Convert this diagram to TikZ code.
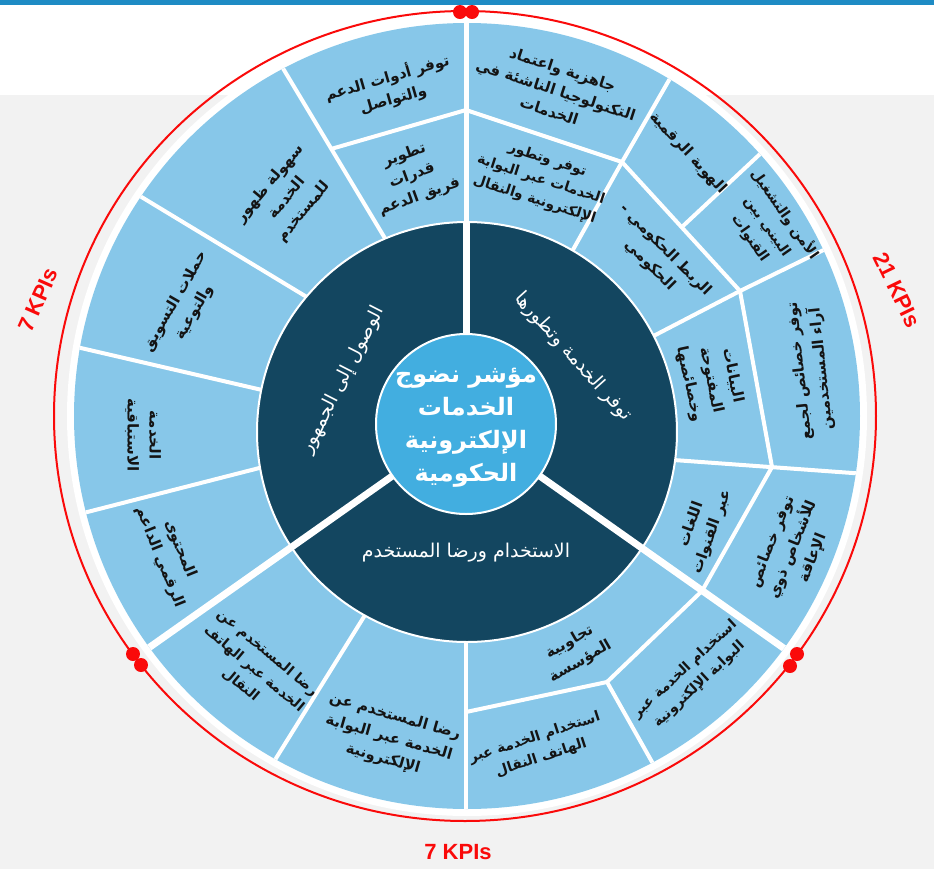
\documentclass[tikz,border=0pt]{standalone}
\usepackage{fontspec}
\TeXXeTstate=1
\newfontfamily\arabicfont[Script=Arabic]{DejaVu Sans}
\newfontfamily\kpifont{Liberation Sans}
\newcommand\arl[1]{\beginR #1\endR}
\definecolor{lightcell}{RGB}{135,199,233}
\definecolor{darkring}{RGB}{19,70,96}
\definecolor{centerblue}{RGB}{66,174,224}
\definecolor{bggrey}{RGB}{242,242,242}
\definecolor{topblue}{RGB}{30,139,196}
\definecolor{kpired}{RGB}{250,10,10}
\definecolor{txtblack}{RGB}{20,20,20}
\tikzset{
 cell/.style={font=\arabicfont\bfseries\fontsize{7.5}{11}\selectfont, align=center, text=txtblack, inner sep=0pt},
 smallcell/.style={cell, font=\arabicfont\bfseries\fontsize{7}{10.5}\selectfont},
 darktext/.style={font=\arabicfont\fontsize{9.5}{12}\selectfont, text=white, inner sep=0pt},
 centertext/.style={font=\arabicfont\bfseries\fontsize{12}{16.5}\selectfont, text=white, align=center, inner sep=0pt},
 kpi/.style={font=\kpifont\bfseries\fontsize{11}{13}\selectfont, text=kpired, inner sep=0pt},
 cellline/.style={draw=white, line width=2pt},
 sepline/.style={draw=white, line width=3.5pt},
 topline/.style={draw=white, line width=2.5pt},
 reddot/.style={fill=kpired, draw=none},
}
\begin{document}
\begin{tikzpicture}[x=0.5pt,y=-0.5pt]
\useasboundingbox (0,0) rectangle (934,869);
% background
\fill[white] (0,0) rectangle (934,95);
\fill[bggrey] (0,95) rectangle (934,869);
\fill[topblue] (0,0) rectangle (934,5);
% red outer ring
\draw[kpired, line width=1pt] (465,416) ellipse [x radius=411, y radius=405];
% white ring and light ring
\fill[white] (467,416) circle (400);
\fill[lightcell] (467,416) circle (393);
% cell boundaries
\begin{scope}
\clip (467,416) circle (393);
\draw[topline] (466,0) -- (466,424);
\draw[cellline] (275,55) -- (395,255);
\draw[cellline] (331,149) -- (466,110);
\draw[cellline] (466,110) -- (622,162);
\draw[cellline] (622,162) -- (680,61);
\draw[cellline] (622,162) -- (560,273);
\draw[cellline] (622,162) -- (740,291);
\draw[cellline] (683,226) -- (775,140);
\draw[cellline] (740,291) -- (850,237);
\draw[cellline] (740,291) -- (640,343);
\draw[cellline] (740,291) -- (772,467);
\draw[cellline] (660,459) -- (880,475);
\draw[cellline] (772,467) -- (702,591);
\draw[cellline] (702,591) -- (607,682);
\draw[cellline] (607,682) -- (466,712);
\draw[cellline] (607,682) -- (665,785);
\draw[cellline] (466,600) -- (466,830);
\draw[cellline] (375,599) -- (265,776);
\draw[cellline] (120,184) -- (320,305);
\draw[cellline] (55,342) -- (275,393);
\draw[cellline] (60,519) -- (275,464);
\end{scope}
% dark ring
\fill[darkring, draw=white, line width=1pt] (467,432) circle (210);
% thick separators
\begin{scope}
\clip (467,416) circle (393);
\draw[sepline] (466,424) -- (466,222);
\draw[sepline] (466,424) -- (809,666);
\draw[sepline] (466,424) -- (123,666);
\end{scope}
% centre
\fill[centerblue, draw=white, line width=1pt] (466,424) circle (90);
\node[centertext] (core) at (466,428) {\arl{مؤشر نضوج}\\\arl{الخدمات}\\\arl{الإلكترونية}\\\arl{الحكومية}};
% dark sector labels
\node[darktext, rotate=63] (reach) at (343,380) {\arl{الوصول إلى الجمهور}};
\node[darktext, rotate=-48] (avail) at (573,357) {\arl{توفر الخدمة وتطورها}};
\node[darktext] (usage) at (466,553) {\arl{الاستخدام ورضا المستخدم}};
% cells, left sector
\node[cell, rotate=16] (c1) at (390,88) {\arl{توفر أدوات الدعم}\\\arl{والتواصل}};
\node[cell, rotate=20] (c2) at (412,176) {\arl{تطوير}\\\arl{قدرات}\\\arl{فريق الدعم}};
\node[cell, rotate=50] (c3) at (287,198) {\arl{سهولة ظهور}\\\arl{الخدمة}\\\arl{للمستخدم}};
\node[cell, rotate=60] (c4) at (185,307) {\arl{حملات التسويق}\\\arl{والتوعية}};
\node[cell, rotate=-90] (c5) at (143,435) {\arl{الخدمة}\\\arl{الاستباقية}};
\node[cell, rotate=-68] (c6) at (170,553) {\arl{المحتوى}\\\arl{الرقمي الداعم}};
% cells, right sector
\node[cell, rotate=-18] (c7) at (556,90) {\arl{جاهزية واعتماد}\\\arl{التكنولوجيا الناشئة في}\\\arl{الخدمات}};
\node[smallcell, rotate=-18] (c8) at (541,180) {\arl{توفر وتطور}\\\arl{الخدمات عبر البوابة}\\\arl{الإلكترونية والنقال}};
\node[cell, rotate=-47] (c9) at (688,153) {\arl{الهوية الرقمية}};
\node[smallcell, rotate=-55] (c10) at (768,226) {\arl{الأمن والتشغيل}\\\arl{البيني بين}\\\arl{القنوات}};
\node[cell, rotate=-45] (c11) at (658,258) {\arl{الربط الحكومي -}\\\arl{الحكومي}};
\node[cell, rotate=-78] (c12) at (711,380) {\arl{البيانات}\\\arl{المفتوحة}\\\arl{وخصائصها}};
\node[cell, rotate=96] (c13) at (811,370) {\arl{توفر خصائص لجمع}\\\arl{آراء المستخدمين}};
\node[cell, rotate=70] (c14) at (702,528) {\arl{اللغات}\\\arl{عبر القنوات}};
\node[cell, rotate=68] (c15) at (793,550) {\arl{توفر خصائص}\\\arl{للأشخاص ذوي}\\\arl{الإعاقة}};
% cells, bottom sector
\node[smallcell, rotate=43] (c16) at (692,677) {\arl{استخدام الخدمة عبر}\\\arl{البوابة الإلكترونية}};
\node[cell, rotate=30] (c17) at (575,652) {\arl{تجاوبية}\\\arl{المؤسسة}};
\node[smallcell, rotate=18] (c18) at (538,748) {\arl{استخدام الخدمة عبر}\\\arl{الهاتف النقال}};
\node[cell, rotate=-16] (c19) at (389,738) {\arl{رضا المستخدم عن}\\\arl{الخدمة عبر البوابة}\\\arl{الإلكترونية}};
\node[smallcell, rotate=-40] (c20) at (254,669) {\arl{رضا المستخدم عن}\\\arl{الخدمة عبر الهاتف}\\\arl{النقال}};
% red markers
\fill[reddot] (460,12) circle (7);
\fill[reddot] (472,12) circle (7);
\fill[reddot] (133,654) circle (7);
\fill[reddot] (141,665) circle (7);
\fill[reddot] (797,654) circle (7);
\fill[reddot] (790,666) circle (7);
% KPI labels
\node[kpi, rotate=-64] (k21) at (897,290) {21 KPIs};
\node[kpi, rotate=66] (k7l) at (38,300) {7 KPIs};
\node[kpi] (k7b) at (458,852) {7 KPIs};
\end{tikzpicture}
\end{document}
